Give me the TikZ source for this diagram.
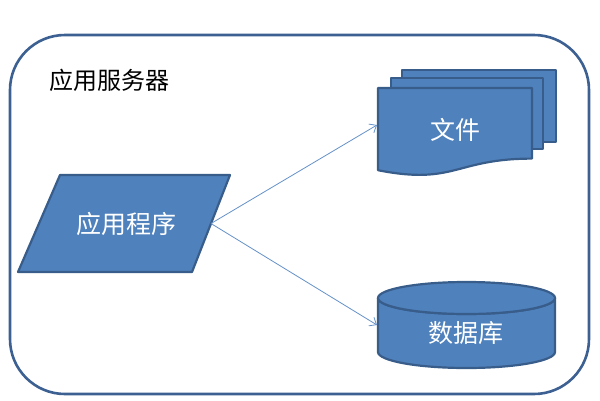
\documentclass[tikz,border=0pt]{standalone}
\usepackage{fontspec}
\newfontfamily\cjk{Noto Sans CJK SC}
\usetikzlibrary{arrows.meta}
\definecolor{shapefill}{RGB}{79,129,189}
\definecolor{shapeline}{RGB}{56,93,138}
\definecolor{frameline}{RGB}{60,96,146}
\definecolor{arrowblue}{RGB}{100,145,200}
\tikzset{
  blockshape/.style={fill=shapefill, draw=shapeline, line width=2.2pt, line join=round},
  labeltext/.style={text=white, font=\cjk\fontsize{25}{29}\selectfont, inner sep=0pt},
  titletext/.style={text=black, font=\cjk\fontsize{24}{28}\selectfont, inner sep=0pt},
  linkarrow/.style={draw=arrowblue, line width=0.8pt, -{Straight Barb[length=6pt,width=10pt]}},
}
\begin{document}
\begin{tikzpicture}[x=1pt,y=-1pt]
\useasboundingbox (0,0) rectangle (600,400);
% outer frame
\draw[draw=frameline, line width=2.6pt, rounded corners=55pt] (10,35) rectangle (589,394);
\node[titletext] (title) at (109,80) {应用服务器};
% application parallelogram
\draw[blockshape] (60,175) -- (230,175) -- (192,272) -- (18,272) -- cycle;
\node[labeltext] (app) at (126,224) {应用程序};
\coordinate (apptip) at (211,223.5);
% multi-document
\draw[blockshape] (402,70) rectangle (556,142);
\draw[blockshape] (391,78) rectangle (543,149);
\draw[blockshape] (378,88) -- (532,88) -- (532,158.6)
  .. controls (455,158.6) and (455,185.4) .. (378,170.2) -- cycle;
\node[labeltext] (files) at (455,130) {文件};
\coordinate (filesin) at (377,125);
% database cylinder
\draw[blockshape] (378,298) -- (378,352) arc[start angle=180, end angle=360, x radius=88.5pt, y radius=16pt]
  -- (555,298) arc[start angle=0, end angle=-180, x radius=88.5pt, y radius=16pt] -- cycle;
\draw[blockshape] (466.5,298) ellipse[x radius=88.5pt, y radius=16pt];
\node[labeltext] (db) at (466,333) {数据库};
\coordinate (dbin) at (377,325);
% connectors
\draw[linkarrow] (apptip) -- (filesin);
\draw[linkarrow] (apptip) -- (dbin);
\end{tikzpicture}
\end{document}
